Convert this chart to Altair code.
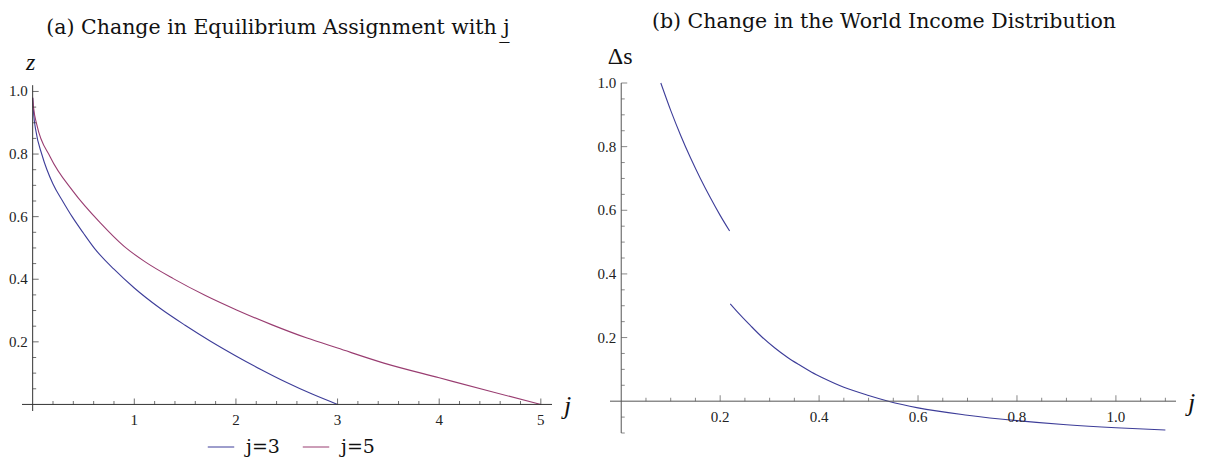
import altair as alt
import pandas as pd

# ---------------- data: panel (a) ----------------
a_j3_x = [0.0, 0.01, 0.03, 0.092, 0.2, 0.3, 0.388, 0.5, 0.612, 0.8, 1.0, 1.25, 1.5, 1.75, 2.0, 2.25, 2.5, 2.75, 3.0]
a_j3_z = [0.98, 0.927, 0.877, 0.797, 0.704, 0.647, 0.60, 0.547, 0.497, 0.432, 0.372, 0.308, 0.253, 0.202, 0.155, 0.111, 0.070, 0.033, 0.0]
a_j5_x = [0.0, 0.01, 0.04, 0.174, 0.4, 0.666, 0.9, 1.1, 1.384, 1.7, 2.006, 2.35, 2.7, 3.0, 3.456, 4.0, 4.5, 5.0]
a_j5_z = [0.98, 0.945, 0.895, 0.79, 0.68, 0.58, 0.505, 0.457, 0.402, 0.348, 0.302, 0.255, 0.212, 0.18, 0.132, 0.085, 0.042, 0.0]
series_names = ["j\u0332=3", "j\u0332=5"]
series_colors = ["#3d3d99", "#993d71"]

a_xticks_major = [1, 2, 3, 4, 5]
a_xticks_minor = [round(0.2 * i, 2) for i in range(1, 26) if i % 5 != 0]
a_yticks_major = [0.2, 0.4, 0.6, 0.8, 1.0]
a_yticks_minor = [round(0.05 * i, 2) for i in range(1, 21) if i % 4 != 0]
a_xaxis_range = [-0.105, 5.11]
a_yaxis_range = [-0.021, 1.02]

# ---------------- data: panel (b) ----------------
b_seg1_x = [0.08, 0.10, 0.12, 0.14, 0.16, 0.18, 0.20, 0.219]
b_seg1_y = [1.0, 0.914, 0.836, 0.765, 0.700, 0.640, 0.584, 0.535]
b_seg2_x = [0.2204, 0.24, 0.261, 0.285, 0.31, 0.335, 0.359, 0.385, 0.408, 0.45, 0.5, 0.54, 0.6, 0.7, 0.8, 0.9, 1.0, 1.1]
b_seg2_y = [0.306, 0.272, 0.238, 0.201, 0.168, 0.139, 0.115, 0.091, 0.073, 0.044, 0.018, 0.0, -0.021, -0.044, -0.061, -0.074, -0.0835, -0.0906]
b_color = "#3d3d99"

b_xticks_major = [0.2, 0.4, 0.6, 0.8, 1.0]
b_xticks_minor = [round(0.05 * i, 2) for i in range(1, 23) if i % 4 != 0]
b_yticks_major = [0.2, 0.4, 0.6, 0.8, 1.0]
b_yticks_minor = [round(0.05 * i, 2) for i in range(-2, 21) if i % 4 != 0]
b_xaxis_range = [-0.0227, 1.1215]
b_yaxis_range = [-0.1, 1.0]

SERIF = "Liberation Serif"
WIDE_SERIF = "DejaVu Serif"
H = 350


def fmt(v):
    return f"{v:.1f}"


def panel(curve_layers_fn, xdom, ydom, xaxis_rng, yaxis_rng,
          xmaj, xmin_, ymaj, ymin_, xfmt, ylabel_text, ylabel_style, width, title, axis_color):
    xs = alt.Scale(domain=xdom, nice=False, zero=False)
    ys = alt.Scale(domain=ydom, nice=False, zero=False)
    X = lambda f: alt.X(f, type="quantitative", scale=xs, axis=None)
    Y = lambda f: alt.Y(f, type="quantitative", scale=ys, axis=None)

    xaxis = alt.Chart(pd.DataFrame({"x": [xaxis_rng[0]], "x2": [xaxis_rng[1]], "y": [0]})).mark_rule(
        color=axis_color, strokeWidth=1).encode(x=X("x"), x2="x2", y=Y("y"))
    yaxis = alt.Chart(pd.DataFrame({"y": [yaxis_rng[0]], "y2": [yaxis_rng[1]], "x": [0]})).mark_rule(
        color=axis_color, strokeWidth=1).encode(y=Y("y"), y2="y2", x=X("x"))

    def xt(vals, L):
        return alt.Chart(pd.DataFrame({"x": vals, "y": [0] * len(vals)})).mark_tick(
            orient="vertical", size=L, thickness=1, color=axis_color, yOffset=-L / 2).encode(x=X("x"), y=Y("y"))

    def yt(vals, L):
        return alt.Chart(pd.DataFrame({"y": vals, "x": [0] * len(vals)})).mark_tick(
            orient="horizontal", size=L, thickness=1, color=axis_color, xOffset=L / 2).encode(x=X("x"), y=Y("y"))

    xlab = alt.Chart(pd.DataFrame({"x": xmaj, "y": [0] * len(xmaj), "t": [xfmt(v) for v in xmaj]})).mark_text(
        font=SERIF, fontSize=15, baseline="top", dy=9, color="#222").encode(x=X("x"), y=Y("y"), text="t:N")
    ylab = alt.Chart(pd.DataFrame({"y": ymaj, "x": [0] * len(ymaj), "t": [fmt(v) for v in ymaj]})).mark_text(
        font=SERIF, fontSize=15, align="right", baseline="middle", dx=-5, color="#222").encode(x=X("x"), y=Y("y"), text="t:N")

    jlab = alt.Chart(pd.DataFrame({"x": [xaxis_rng[1]], "y": [0], "t": ["j"]})).mark_text(
        font=SERIF, fontSize=26, fontStyle="italic", align="left", baseline="middle", dx=12, dy=2, color="#111"
    ).encode(x=X("x"), y=Y("y"), text="t:N")
    ylabel = alt.Chart(pd.DataFrame({"x": [0], "y": [yaxis_rng[1]], "t": [ylabel_text]})).mark_text(
        font=SERIF, color="#111", baseline="bottom", align="center", **ylabel_style
    ).encode(x=X("x"), y=Y("y"), text="t:N")

    layers = curve_layers_fn(X, Y) + [xaxis, yaxis, xt(xmin_, 3.5), xt(xmaj, 6), yt(ymin_, 3.5), yt(ymaj, 6),
                                      xlab, ylab, jlab, ylabel]
    return alt.layer(*layers).properties(
        width=width, height=H,
        title=alt.TitleParams(title, font=WIDE_SERIF, fontSize=20.5, fontWeight="normal", anchor="middle",
                              offset=13, dx=-9, color="#111"))


# ---- panel (a) curves ----
df_a = pd.DataFrame({
    "x": a_j3_x + a_j5_x,
    "z": a_j3_z + a_j5_z,
    "s": [series_names[0]] * len(a_j3_x) + [series_names[1]] * len(a_j5_x),
})


def curves_a(X, Y):
    return [alt.Chart(df_a).mark_line(strokeWidth=1.1, interpolate="monotone").encode(
        x=X("x"), y=Y("z"),
        color=alt.Color("s:N", scale=alt.Scale(domain=series_names, range=series_colors),
                        legend=alt.Legend(orient="none", legendX=185, legendY=350, direction="horizontal",
                                          title=None, symbolType="stroke", symbolSize=700,
                                          symbolStrokeWidth=1, labelFont=WIDE_SERIF, labelFontSize=19,
                                          labelColor="#111", columnPadding=20, labelOffset=11)),
        order="x:Q")]


df_b = pd.DataFrame({
    "x": b_seg1_x + b_seg2_x,
    "y": b_seg1_y + b_seg2_y,
    "seg": ["a"] * len(b_seg1_x) + ["b"] * len(b_seg2_x),
})


def curves_b(X, Y):
    return [alt.Chart(df_b).mark_line(strokeWidth=1.1, color=b_color, interpolate="monotone").encode(
        x=X("x"), y=Y("y"), detail="seg:N", order="x:Q")]


left = panel(curves_a, [-0.105, 5.11], [-0.0913, 1.027], a_xaxis_range, a_yaxis_range,
             a_xticks_major, a_xticks_minor, a_yticks_major, a_yticks_minor, lambda v: str(int(v)),
             "z", dict(fontSize=24, fontStyle="italic", dy=-10, dx=-2), 530,
             "(a) Change in Equilibrium Assignment with j\u0332", "#333333")
right = panel(curves_b, [-0.0227, 1.1215], [-0.1, 1.0], b_xaxis_range, b_yaxis_range,
              b_xticks_major, b_xticks_minor, b_yticks_major, b_yticks_minor, fmt,
              "\u0394s", dict(fontSize=24, dy=-14, dx=-1), 566,
              "(b) Change in the World Income Distribution", "#555555")

chart = alt.hconcat(left, right, spacing=58, bounds="flush").properties(
    padding={"top": 3, "left": 0, "right": 0, "bottom": 0}
).configure_view(stroke=None)

chart.save("out.html", embed_options={"renderer": "svg", "actions": False})
